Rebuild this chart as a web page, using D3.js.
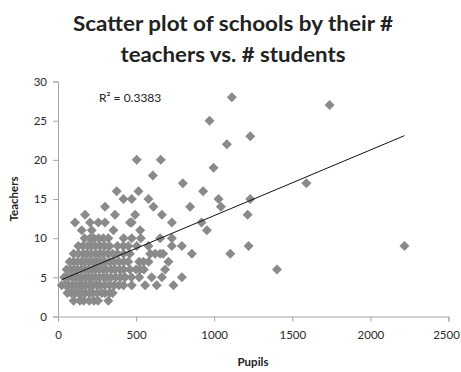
<!DOCTYPE html>
<html><head><meta charset="utf-8">
<script src="https://cdn.jsdelivr.net/npm/d3@7"></script>
<style>body{margin:0;background:#fff}svg{display:block}text{font-family:Lato,"Open Sans",sans-serif}</style>
</head><body><svg id="c" width="461" height="372"></svg>
<script>
// teacher counts and the pupil counts of schools at each level
const teacherLevels = [2,3,4,5,6,7,8,9,10,11,12,13,14,15,16,17,18,19,20,22,23,25,27,28];
const pupilsByLevel = [
  [100,140,165,200,230,256,322],
  [60,85,110,130,150,175,200,220,250,280,300,330,350],
  [24,50,70,95,115,140,160,180,205,225,250,270,300,330,360,390,420,472,558,632,739],
  [40,65,90,110,130,150,175,195,215,240,265,290,315,340,370,400,430,470,520,600,665,793],
  [55,80,105,125,150,170,195,220,240,265,290,310,340,365,395,420,460,500,526,550,686,1402],
  [75,100,125,150,175,200,225,250,275,300,330,360,390,420,450,520,547,580,707],
  [100,130,160,185,210,240,265,290,320,350,380,420,460,590,622,654,673,857,1103],
  [130,160,190,215,240,270,300,330,380,417,450,504,579,729,793,1220,2218],
  [170,205,230,260,290,322,420,472,530,654,729],
  [152,216,355,526,953],
  [109,205,258,301,461,472,729,919],
  [173,365,494,665,1214],
  [301,611,846,1043],
  [419,472,579,1028,1231],
  [376,515,929],
  [799,1590],
  [607],
  [996],
  [504,658],
  [1081],
  [1231],
  [970],
  [1739],
  [1113]
];
const xTicks = [0,500,1000,1500,2000,2500];
const yTicks = [0,5,10,15,20,25,30];
const trendIntercept = 4.5;
const trendSlope = 0.00838;
const rSquaredLabel = "R\u00B2 = 0.3383";
const titleLines = ["Scatter plot of schools by their #","teachers vs. # students"];

const points = [];
teacherLevels.forEach((t,i)=>pupilsByLevel[i].forEach(p=>points.push({p,t})));

const svg = d3.select("#c");
const x = d3.scaleLinear().domain([0,2500]).range([58,448.5]);
const y = d3.scaleLinear().domain([0,30]).range([316.5,81.5]);

// title
svg.append("g").selectAll("text").data(titleLines).join("text")
  .attr("x",233).attr("y",(d,i)=>31+i*31)
  .attr("text-anchor","middle").attr("font-weight","bold").attr("font-size",21)
  .attr("fill","#222")
  .attr("textLength",(d,i)=>i===0?320:225).attr("lengthAdjust","spacingAndGlyphs")
  .text(d=>d);

// axes
const axisColor = "#a6a6a6";
const gx = svg.append("g").attr("transform",`translate(0,${y(0)})`)
  .call(d3.axisBottom(x).tickValues(xTicks).tickSize(5).tickPadding(9).tickFormat(d3.format("d")));
const gy = svg.append("g").attr("transform",`translate(${x(0)},0)`)
  .call(d3.axisLeft(y).tickValues(yTicks).tickSize(5).tickPadding(6).tickFormat(d3.format("d")));
[gx,gy].forEach(g=>{
  g.select(".domain").attr("stroke",axisColor);
  g.selectAll(".tick line").attr("stroke",axisColor);
  g.selectAll(".tick text").attr("font-size",11.5).attr("fill","#2a2a2a")
   .style("font-family","Lato, 'Open Sans', sans-serif");
});
gx.selectAll(".tick text").filter(d=>d===2500).attr("dx",-2.5);

// points
const sym = d3.symbol().type(d3.symbolDiamond2).size(64);
svg.append("g").selectAll("path").data(points).join("path")
  .attr("transform",d=>`translate(${x(d.p)},${y(d.t)})`)
  .attr("d",sym).attr("fill","#8a8a8a");

// trend line
const pExt = d3.extent(points,d=>d.p);
svg.append("line")
  .attr("x1",x(pExt[0])).attr("y1",y(trendIntercept+trendSlope*pExt[0]))
  .attr("x2",x(pExt[1])).attr("y2",y(trendIntercept+trendSlope*pExt[1]))
  .attr("stroke","#111").attr("stroke-width",1);

svg.append("text").attr("x",99).attr("y",102).attr("font-size",12).attr("fill","#222").text(rSquaredLabel);

// axis titles
svg.append("text").attr("x",253).attr("y",366).attr("text-anchor","middle")
  .attr("font-weight","bold").attr("font-size",11.5).attr("fill","#222").text("Pupils");
svg.append("text").attr("transform","translate(18,199) rotate(-90)").attr("text-anchor","middle")
  .attr("font-weight","bold").attr("font-size",11.5).attr("fill","#222").text("Teachers");
</script></body></html>
